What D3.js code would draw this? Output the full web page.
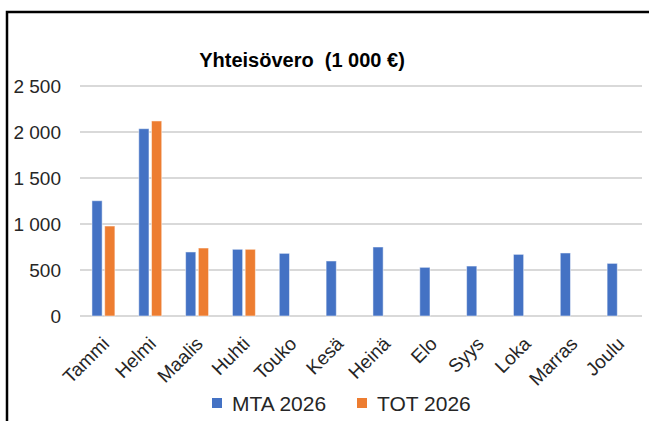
<!DOCTYPE html>
<html>
<head>
<meta charset="utf-8">
<script src="https://cdn.jsdelivr.net/npm/d3@7"></script>
<style>
  body { margin: 0; background: #fff; }
  svg { display: block; }
  text { font-family: "Liberation Sans", Arial, sans-serif; fill: #262626; }
</style>
</head>
<body>
<svg id="chart" width="649" height="421"></svg>
<script>
const months = ['Tammi', 'Helmi', 'Maalis', 'Huhti', 'Touko', 'Kesä', 'Heinä', 'Elo', 'Syys', 'Loka', 'Marras', 'Joulu'];
const seriesNames = ['MTA 2026', 'TOT 2026'];
const mta2026 = [1253, 2036, 696, 725, 681, 598, 750, 529, 543, 670, 685, 572];
const tot2026 = [978, 2120, 739, 725, null, null, null, null, null, null, null, null];
const yTicks = [0, 500, 1000, 1500, 2000, 2500];
const colors = ['#4472C4', '#ED7D31'];

const svg = d3.select('#chart');

// outer frame (cropped on right and bottom)
svg.append('path')
  .attr('d', 'M7,430 L7,12 L660,12')
  .attr('fill', 'none')
  .attr('stroke', '#000')
  .attr('stroke-width', 2.5);

svg.append('text')
  .attr('x', 302)
  .attr('y', 67)
  .attr('text-anchor', 'middle')
  .attr('font-size', 20)
  .attr('font-weight', 'bold')
  .style('fill', '#000')
  .text('Yhteisövero\u00a0 (1\u00a0000 €)');

const x0 = d3.scaleBand().domain(months).range([80, 642]).paddingInner(0.51).paddingOuter(0.255);
const x1 = d3.scaleBand().domain(seriesNames).range([0, x0.bandwidth()]).paddingInner(0.2);
const y = d3.scaleLinear().domain([0, 2500]).range([316, 86]);

const fmt = v => d3.format(',')(v).replace(/,/g, '\u00a0');

// gridlines
svg.append('g')
  .selectAll('line')
  .data(yTicks)
  .join('line')
  .attr('x1', 80).attr('x2', 642)
  .attr('y1', d => y(d)).attr('y2', d => y(d))
  .attr('stroke', '#d9d9d9')
  .attr('stroke-width', 2);

// y labels
svg.append('g')
  .selectAll('text')
  .data(yTicks)
  .join('text')
  .attr('x', 61)
  .attr('y', d => y(d) + 7)
  .attr('text-anchor', 'end')
  .attr('font-size', 19)
  .text(fmt);

const rows = months.map((m, i) => ({ month: m, values: [mta2026[i], tot2026[i]] }));

const groups = svg.append('g')
  .selectAll('g')
  .data(rows)
  .join('g')
  .attr('transform', d => `translate(${x0(d.month)},0)`);

groups.selectAll('rect')
  .data(d => d.values.map((v, j) => ({ key: seriesNames[j], value: v, j })).filter(e => e.value != null))
  .join('rect')
  .attr('x', d => x1(d.key))
  .attr('width', x1.bandwidth())
  .attr('y', d => y(d.value))
  .attr('height', d => y(0) - y(d.value))
  .attr('fill', d => colors[d.j])
  .attr('stroke', 'rgba(255,255,255,0.5)')
  .attr('stroke-width', 1);

// x labels
svg.append('g')
  .selectAll('text')
  .data(months)
  .join('text')
  .attr('text-anchor', 'end')
  .attr('font-size', 19)
  .attr('transform', d => `translate(${x0(d) + x0.bandwidth() / 2 + 7},345) rotate(-45)`)
  .text(d => d);

// legend
const legendX = [212, 357];
const legend = svg.append('g')
  .selectAll('g')
  .data(seriesNames)
  .join('g')
  .attr('transform', (d, i) => `translate(${legendX[i]},398)`);

legend.append('rect')
  .attr('width', 10).attr('height', 10)
  .attr('fill', (d, i) => colors[i]);

legend.append('text')
  .attr('x', 20)
  .attr('y', 13)
  .attr('font-size', 21)
  .text(d => d);
</script>
</body>
</html>
